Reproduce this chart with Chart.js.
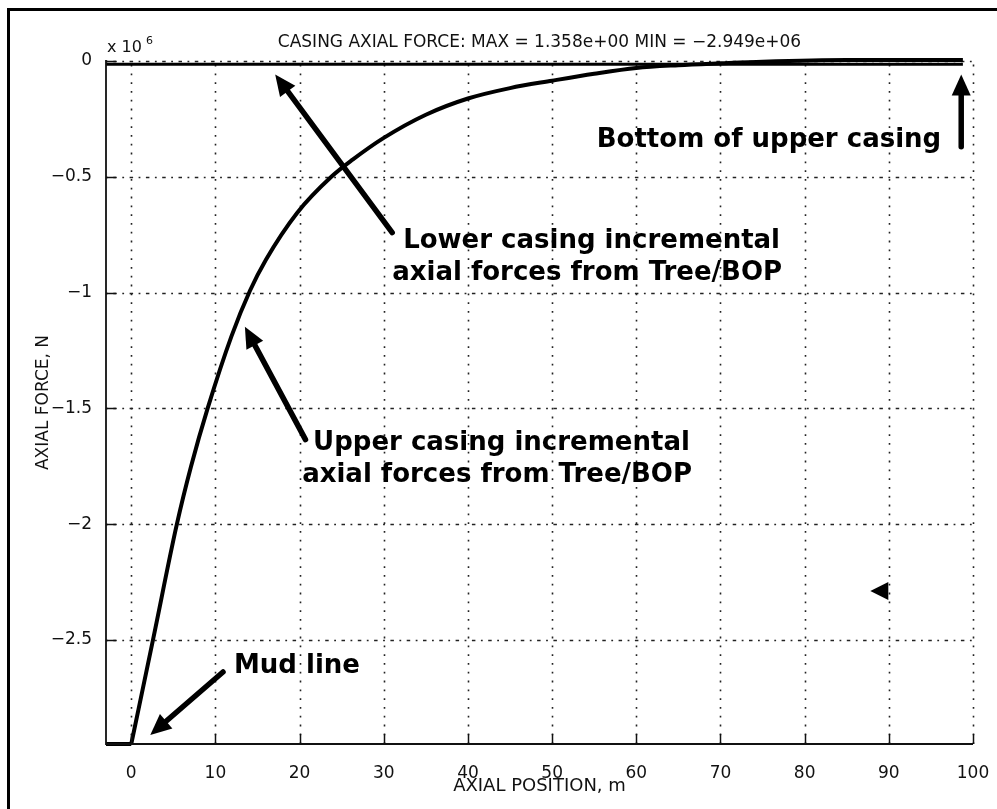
<!DOCTYPE html>
<html>
<head>
<meta charset="utf-8">
<script src="https://cdn.jsdelivr.net/npm/chart.js@4"></script>
<style>
  html, body { margin: 0; padding: 0; background: #fff; }
  #wrap { width: 997px; height: 809px; }
</style>
</head>
<body>
<div id="wrap"><canvas id="forceChart" width="997" height="809"></canvas></div>
<script>
// axial position (m) and axial force (x 10^6 N)
const positionM = [0, 2.6, 5.4, 7.1, 9.1, 11.9, 14.1, 16.0, 19.7, 23.8, 26.3, 30, 35, 40, 45, 50, 55, 60, 65, 70, 75, 85, 98.8];
const forceMN = [-2.949, -2.496, -2.003, -1.751, -1.497, -1.189, -0.992, -0.858, -0.656, -0.499, -0.426, -0.332, -0.232, -0.162, -0.117, -0.085, -0.055, -0.030, -0.018, -0.010, -0.003, 0.004, 0.004];

// flat part left of the mud line
const mudPositionM = [-3, 0];
const mudForceMN = [-2.949, -2.949];

// the flat line just under zero along the top
const flatPositionM = [-3, 98.8];
const flatForceMN = [-0.014, -0.014];

const xTicks = { min: -3, max: 100, step: 10 };
const yTicks = { min: -2.949, max: 0, step: 0.5 };

const TITLE = "CASING AXIAL FORCE: MAX = 1.358e+00 MIN = \u22122.949e+06";

// annotations in data coordinates
const noteArrows = [
  { from: [31.0, -0.741], to: [17.1, -0.058] },
  { from: [20.7, -1.635], to: [13.5, -1.147] },
  { from: [10.9, -2.638], to: [2.26, -2.910] },
  { from: [98.6, -0.370], to: [98.6, -0.058] },
];
const noteTexts = [
  { text: "Lower casing incremental", at: [32.3, -0.806] },
  { text: "axial forces from Tree/BOP", at: [31.0, -0.944] },
  { text: "Upper casing incremental", at: [21.6, -1.679] },
  { text: "axial forces from Tree/BOP", at: [20.3, -1.817] },
  { text: "Mud line", at: [12.2, -2.642] },
  { text: "Bottom of upper casing", at: [55.3, -0.370] },
];
const markerTip = [87.8, -2.288];

const FONT = "'DejaVu Sans', Verdana, sans-serif";
const minus = (v) => {
  const r = Math.round(v * 10) / 10;
  return r === 0 ? "0" : (r < 0 ? "\u2212" : "") + Math.abs(r);
};
const toXY = (xs, ys) => xs.map((x, i) => ({ x, y: ys[i] }));

function drawArrow(ctx, x1, y1, x2, y2) {
  const ang = Math.atan2(y2 - y1, x2 - x1);
  const headLen = 21, headHalf = 9.5;
  const bx = x2 - Math.cos(ang) * headLen;
  const by = y2 - Math.sin(ang) * headLen;
  ctx.save();
  ctx.strokeStyle = "#000";
  ctx.fillStyle = "#000";
  ctx.lineWidth = 5.5;
  ctx.lineCap = "round";
  ctx.beginPath();
  ctx.moveTo(x1, y1);
  ctx.lineTo(bx + Math.cos(ang) * 2, by + Math.sin(ang) * 2);
  ctx.stroke();
  ctx.beginPath();
  ctx.moveTo(x2, y2);
  ctx.lineTo(bx + Math.sin(ang) * headHalf, by - Math.cos(ang) * headHalf);
  ctx.lineTo(bx - Math.sin(ang) * headHalf, by + Math.cos(ang) * headHalf);
  ctx.closePath();
  ctx.fill();
  ctx.restore();
}

const matlabLook = {
  id: "matlabLook",
  beforeDatasetsDraw(chart) {
    const { ctx, chartArea: a, scales: { x, y } } = chart;
    ctx.save();
    ctx.strokeStyle = "#222";
    ctx.lineWidth = 1.6;
    // vertical grid: dotted
    ctx.setLineDash([1.8, 7]);
    x.ticks.forEach((t) => {
      const px = Math.round(x.getPixelForValue(t.value)) + 0.5;
      ctx.beginPath();
      ctx.moveTo(px, a.bottom);
      ctx.lineTo(px, a.top);
      ctx.stroke();
    });
    // horizontal grid: dot-dash look
    ctx.setLineDash([1.8, 5.5, 3.5, 5.5]);
    y.ticks.forEach((t) => {
      const py = Math.round(y.getPixelForValue(t.value)) + 0.5;
      ctx.beginPath();
      ctx.moveTo(a.left, py);
      ctx.lineTo(a.right, py);
      ctx.stroke();
    });
    ctx.restore();
  },
  afterDatasetsDraw(chart) {
    const { ctx, chartArea: a, scales: { x, y } } = chart;
    ctx.save();
    ctx.strokeStyle = "#111";
    ctx.lineWidth = 1.8;
    ctx.beginPath();
    ctx.moveTo(a.left, y.getPixelForValue(0) - 1);
    ctx.lineTo(a.left, a.bottom);
    ctx.lineTo(a.right, a.bottom);
    ctx.stroke();
    // inward tick marks
    ctx.lineWidth = 1.5;
    x.ticks.forEach((t) => {
      const px = Math.round(x.getPixelForValue(t.value)) + 0.5;
      ctx.beginPath();
      ctx.moveTo(px, a.bottom);
      ctx.lineTo(px, a.bottom - 10);
      ctx.stroke();
    });
    y.ticks.forEach((t) => {
      const py = Math.round(y.getPixelForValue(t.value)) + 0.5;
      ctx.beginPath();
      ctx.moveTo(a.left, py);
      ctx.lineTo(a.left + 10, py);
      ctx.stroke();
    });
    ctx.restore();
  },
  afterDraw(chart) {
    const { ctx, chartArea: a, scales: { x, y } } = chart;
    ctx.save();
    // outer frame (left and top edges)
    ctx.strokeStyle = "#000";
    ctx.lineWidth = 3;
    ctx.beginPath();
    ctx.moveTo(8.5, 809);
    ctx.lineTo(8.5, 9.5);
    ctx.lineTo(997, 9.5);
    ctx.stroke();

    // title and exponent
    ctx.fillStyle = "#111";
    ctx.textBaseline = "alphabetic";
    ctx.textAlign = "center";
    ctx.font = `17px ${FONT}`;
    ctx.fillText(TITLE, (a.left + a.right) / 2, 47);
    ctx.textAlign = "left";
    ctx.font = `16px ${FONT}`;
    ctx.fillText("x 10", a.left + 1, 52);
    ctx.font = `11px ${FONT}`;
    ctx.fillText("6", a.left + 40, 44);

    // arrows and notes
    noteArrows.forEach((n) => {
      drawArrow(ctx,
        x.getPixelForValue(n.from[0]), y.getPixelForValue(n.from[1]),
        x.getPixelForValue(n.to[0]), y.getPixelForValue(n.to[1]));
    });
    ctx.fillStyle = "#000";
    ctx.font = `bold 26px ${FONT}`;
    noteTexts.forEach((n) => {
      ctx.fillText(n.text, x.getPixelForValue(n.at[0]), y.getPixelForValue(n.at[1]));
    });
    const tx = x.getPixelForValue(markerTip[0]);
    const ty = y.getPixelForValue(markerTip[1]);
    ctx.beginPath();
    ctx.moveTo(tx, ty);
    ctx.lineTo(tx + 18, ty - 9);
    ctx.lineTo(tx + 18, ty + 9);
    ctx.closePath();
    ctx.fill();
    ctx.restore();
  },
};

const lineStyle = { borderColor: "#000", pointRadius: 0, clip: 8 };

new Chart(document.getElementById("forceChart"), {
  type: "line",
  data: {
    datasets: [
      { ...lineStyle, label: "flat", data: toXY(flatPositionM, flatForceMN), borderWidth: 3 },
      { ...lineStyle, label: "below mud line", data: toXY(mudPositionM, mudForceMN), borderWidth: 4 },
      {
        ...lineStyle,
        label: "axial force",
        data: toXY(positionM, forceMN),
        borderWidth: 4,
        cubicInterpolationMode: "monotone",
      },
    ],
  },
  options: {
    responsive: false,
    animation: false,
    events: [],
    layout: { padding: { left: 12, top: 61, right: 24, bottom: 0 } },
    plugins: { legend: { display: false }, tooltip: { enabled: false }, title: { display: false } },
    scales: {
      x: {
        type: "linear",
        min: xTicks.min,
        max: xTicks.max,
        grid: { display: false },
        border: { display: false },
        ticks: {
          stepSize: xTicks.step,
          includeBounds: false,
          color: "#111",
          padding: 11,
          maxRotation: 0,
          font: { family: FONT, size: 17 },
        },
        title: {
          display: true,
          text: "AXIAL POSITION, m",
          color: "#111",
          font: { family: FONT, size: 18 },
          padding: { top: 0, bottom: 11.5 },
        },
        afterFit(scale) {
          scale.height = 65;
          scale.paddingLeft = 0;
          scale.paddingRight = 0;
        },
      },
      y: {
        min: yTicks.min,
        max: yTicks.max,
        grid: { display: false },
        border: { display: false },
        ticks: {
          stepSize: yTicks.step,
          includeBounds: false,
          color: "#111",
          padding: 6,
          callback: (v) => minus(v),
          font: { family: FONT, size: 17 },
        },
        title: {
          display: true,
          text: "AXIAL FORCE, N",
          color: "#111",
          font: { family: FONT, size: 17 },
          padding: { top: 21, bottom: 0 },
        },
        afterFit(scale) {
          scale.width = 94;
          scale.paddingTop = 0;
          scale.paddingBottom = 0;
        },
      },
    },
  },
  plugins: [matlabLook],
});
</script>
</body>
</html>
